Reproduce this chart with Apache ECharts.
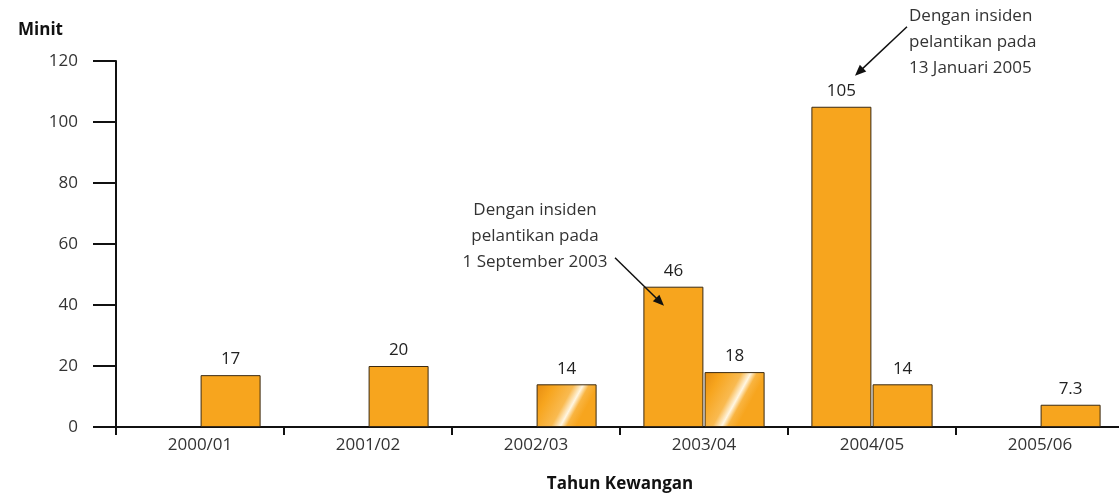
<!DOCTYPE html>
<html>
<head>
<meta charset="utf-8">
<script src="https://cdn.jsdelivr.net/npm/echarts@6/dist/echarts.min.js"></script>
<style>
    html, body { margin: 0; padding: 0; background: #fff; }
    #minitChart { width: 1119px; height: 495px; }
</style>
</head>
<body>
<div id="minitChart"></div>
<script>
    // data
    const categories = ['2000/01', '2001/02', '2002/03', '2003/04', '2004/05', '2005/06']
    const incidentValues = [null, null, null, 46, 105, null]   // bar kiri (dengan insiden)
    const normalValues = [17, 20, 14, 18, 14, 7.3]            // bar kanan
    const yTicks = [0, 20, 40, 60, 80, 100, 120]
    const glossyIndex = [2, 3]                                  // bar berkilat
    const notes = [
        { cat: 3, value: 46, text: 'Dengan insiden\npelantikan pada\n1 September 2003' },
        { cat: 4, value: 105, text: 'Dengan insiden\npelantikan pada\n13 Januari 2005' }
    ]

    const FONT = '"Open Sans", "Noto Sans", sans-serif'
    const ORANGE = '#F7A51E'
    const EDGE = '#3b2a12'
    const GRID_H = 366
    const BAR_W = 60

    // kilatan serong, sudut sama untuk semua bar
    const glossy = (v) => {
        const h = v * GRID_H / yTicks[yTicks.length - 1]
        return new echarts.graphic.LinearGradient(0, 0, 1, 0.55 * BAR_W / h, [
            { offset: 0, color: '#E68C10' },
            { offset: 0.22, color: ORANGE },
            { offset: 0.48, color: '#F9BA50' },
            { offset: 0.6, color: '#FFF6E2' },
            { offset: 0.68, color: '#F9B440' },
            { offset: 0.8, color: ORANGE },
            { offset: 1, color: ORANGE }
        ])
    }

    const label = {
        show: true,
        position: 'top',
        distance: 7,
        color: '#222',
        fontSize: 17,
        fontFamily: FONT
    }

    const option = {
        animation: false,
        grid: { left: 116, top: 61, height: GRID_H, width: 1008, containLabel: false, outerBoundsMode: 'none' },
        xAxis: {
            type: 'category',
            data: categories,
            name: 'Tahun Kewangan',
            nameLocation: 'middle',
            nameGap: 49,
            nameTextStyle: { color: '#111', fontSize: 17, fontWeight: 'bold', fontFamily: FONT },
            axisLine: { lineStyle: { color: '#111', width: 2 } },
            axisTick: { show: true, length: 8, lineStyle: { color: '#111', width: 2 } },
            axisLabel: { color: '#333', fontSize: 17, fontFamily: FONT, margin: 10 }
        },
        yAxis: {
            type: 'value',
            min: yTicks[0],
            max: yTicks[yTicks.length - 1],
            interval: 20,
            name: 'Minit',
            nameLocation: 'end',
            nameGap: 22,
            nameTextStyle: { color: '#111', fontSize: 17, fontWeight: 'bold', fontFamily: FONT, align: 'left', padding: [0, 0, 0, -98] },
            axisLine: { show: true, lineStyle: { color: '#111', width: 2 } },
            axisTick: { show: true, length: 23, lineStyle: { color: '#111', width: 2 } },
            axisLabel: { color: '#333', fontSize: 17, fontFamily: FONT, margin: 38 },
            splitLine: { show: false }
        },
        series: [
            {
                name: 'Dengan insiden',
                type: 'bar',
                barWidth: BAR_W,
                barGap: '2%',
                itemStyle: { color: ORANGE, borderColor: EDGE, borderWidth: 1 },
                label: label,
                data: incidentValues
            },
            {
                name: 'Biasa',
                type: 'bar',
                barWidth: BAR_W,
                barGap: '2%',
                itemStyle: { color: ORANGE, borderColor: EDGE, borderWidth: 1 },
                label: label,
                data: normalValues.map((v, i) => glossyIndex.includes(i)
                    ? { value: v, itemStyle: { color: glossy(v) } }
                    : v)
            }
        ]
    }

    const chart = echarts.init(document.getElementById('minitChart'))
    chart.setOption(option)

    // anotasi dengan anak panah, diletak relatif kepada bar
    const p1 = chart.convertToPixel({ gridIndex: 0 }, [notes[0].cat, notes[0].value])
    const p2 = chart.convertToPixel({ gridIndex: 0 }, [notes[1].cat, notes[1].value])
    const arrow = (x1, y1, x2, y2) => {
        const a = Math.atan2(y2 - y1, x2 - x1)
        const s = 12, w = 0.4
        return [
            { type: 'line', z: 100, shape: { x1: x1, y1: y1, x2: x2 - Math.cos(a) * 6, y2: y2 - Math.sin(a) * 6 }, style: { stroke: '#111', lineWidth: 1.5 } },
            { type: 'polygon', z: 100, shape: { points: [
                [x2, y2],
                [x2 - s * Math.cos(a - w), y2 - s * Math.sin(a - w)],
                [x2 - s * Math.cos(a + w), y2 - s * Math.sin(a + w)]
            ] }, style: { fill: '#111' } }
        ]
    }
    const noteStyle = { fill: '#333', fontSize: 17, fontFamily: FONT, lineHeight: 26 }
    chart.setOption({
        graphic: [
            { type: 'text', z: 100, x: p1[0] - 169, y: p1[1] - 90, style: Object.assign({ text: notes[0].text, align: 'center', verticalAlign: 'top' }, noteStyle) },
            { type: 'text', z: 100, x: p2[0] + 37, y: p2[1] - 104, style: Object.assign({ text: notes[1].text, align: 'left', verticalAlign: 'top' }, noteStyle) }
        ]
            .concat(arrow(p1[0] - 89, p1[1] - 29, p1[0] - 40, p1[1] + 19))
            .concat(arrow(p2[0] + 35, p2[1] - 80, p2[0] - 17, p2[1] - 31))
    })

    window.addEventListener('resize', () => chart.resize())
</script>
</body>
</html>
